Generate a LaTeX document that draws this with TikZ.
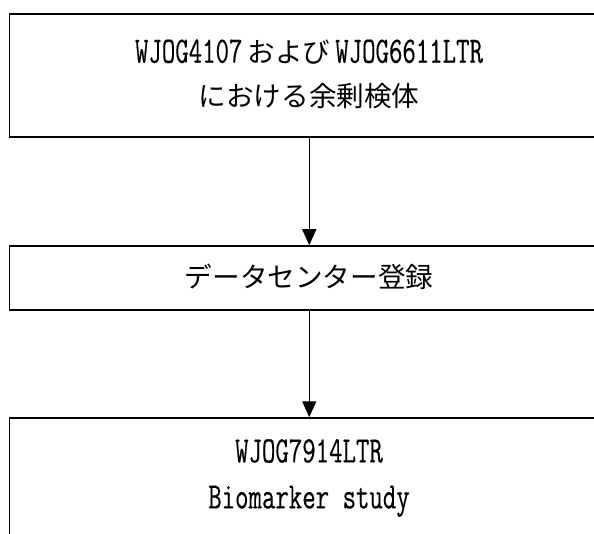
\documentclass[tikz,border=0pt]{standalone}
\usepackage{fontspec}
\setmainfont{Latin Modern Mono}[Scale=1.35,FakeStretch=0.70,FakeBold=0.35]
\newfontfamily\jp{Noto Sans CJK JP}
\usetikzlibrary{arrows.meta}
\tikzset{
  flowbox/.style={draw, line width=1.5pt, minimum width=599.5pt, inner sep=0pt},
  flowtext/.style={align=center, inner sep=0pt, font=\fontsize{27.6}{43.5}\selectfont},
  flowarrow/.style={line width=1.3pt, -{Triangle[length=16pt,width=14pt]}}
}
\begin{document}
\begin{tikzpicture}[x=1pt,y=-1pt]
\useasboundingbox (0,0) rectangle (594,534);
\clip (0,0) rectangle (594,534);
\node[flowbox, minimum height=123pt] (top) at (309.25,75.5) {};
\node[flowbox, minimum height=64pt] (mid) at (309.25,278) {};
\node[flowbox, minimum height=124pt] (bot) at (309.25,480) {};
\node[flowtext] (toptxt) at (309,74)
  {WJOG4107\hspace{5pt}{\jp および}\hspace{5pt}WJOG6611LTR\\{\jp における余剰検体}};
\node[flowtext] (midtxt) at (309,277) {{\jp データセンター登録}};
\node[flowtext, font=\fontsize{27.6}{46}\selectfont] (bottxt) at (309,478)
  {WJOG7914LTR\\Biomarker study};
\draw[flowarrow] (top.south) -- (mid.north);
\draw[flowarrow] (mid.south) -- (bot.north);
\end{tikzpicture}
\end{document}
